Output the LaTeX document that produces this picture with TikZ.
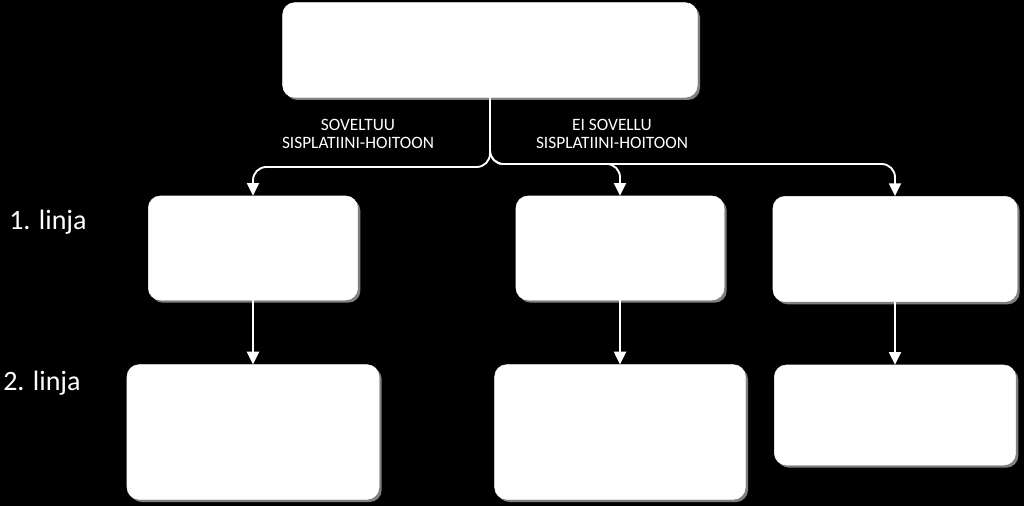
\documentclass[tikz,border=0pt]{standalone}
\usepackage{fontspec}
\setmainfont{Carlito}
\usepackage{tikz}
\usetikzlibrary{
    arrows.meta, positioning, calc, shadows
}
\definecolor{colShadow}{RGB}{128, 128, 128}

\begin{document}
\begin{tikzpicture}[x=0.75pt, y={(0pt,-0.75pt)},
    box/.style={rectangle, rounded corners=9pt, fill=white, draw=white,
        inner sep=0pt, drop shadow={shadow xshift=2pt, shadow yshift=-2pt,
        fill=colShadow, opacity=1}},
    conn/.style={draw=white, line width=1.4pt, rounded corners=10pt,
        -{Triangle[width=9pt, length=9.5pt]}},
    lvl/.style={text=white, inner sep=0pt, anchor=west, font=\fontsize{21}{24}\selectfont},
    branch/.style={text=white, inner sep=0pt, align=center, font=\fontsize{13}{14}\selectfont}]

    % --- Background ---
    \fill[black] (0, 0) rectangle (1024, 506);

    % --- Boxes ---
    \node[box, minimum width=311pt, minimum height=71pt] (top) at (490, 50) {};

    \node[box, minimum width=157pt, minimum height=78pt] (sovA) at (253, 248) {};
    \node[box, minimum width=156pt, minimum height=78pt] (eiA) at (620, 248) {};
    \node[box, minimum width=183pt, minimum height=79pt] (eiB) at (895, 249) {};

    \node[box, minimum width=189pt, minimum height=101pt] (sovA2) at (253, 432) {};
    \node[box, minimum width=188pt, minimum height=101pt] (eiA2) at (620, 432) {};
    \node[box, minimum width=181pt, minimum height=75pt] (eiB2) at (895, 415) {};

    % --- Line labels ---
    \node[lvl] (linja1) at (9, 222) {1. linja};
    \node[lvl] (linja2) at (3, 383) {2. linja};

    % --- Branch labels ---
    \node[branch] (sovLbl) at (358, 134) {SOVELTUU\\SISPLATIINI-HOITOON};
    \node[branch] (eiLbl) at (612, 134) {EI SOVELLU\\SISPLATIINI-HOITOON};

    % Tasot haaroille
    \coordinate (barL) at (0, 167);
    \coordinate (barR) at (0, 164);

    % --- Connectors ---
    \draw[conn] (top.south) |- (sovA.north |- barL) -- (sovA.north);
    \draw[conn] (top.south) |- (eiA.north |- barR) -- (eiA.north);
    \draw[conn] (top.south) |- (eiB.north |- barR) -- (eiB.north);

    \draw[conn] (sovA.south) -- (sovA2.north);
    \draw[conn] (eiA.south) -- (eiA2.north);
    \draw[conn] (eiB.south) -- (eiB2.north);
\end{tikzpicture}
\end{document}
